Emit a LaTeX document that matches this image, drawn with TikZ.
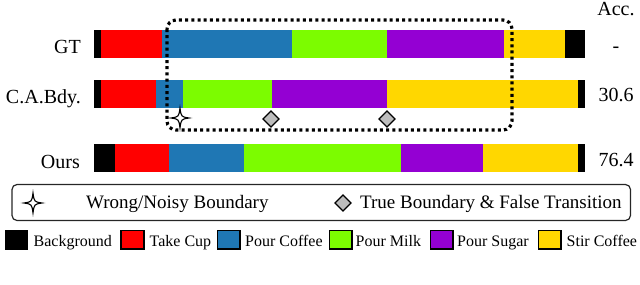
\documentclass[tikz,border=0pt]{standalone}
\usepackage{fontspec}
\setmainfont{Liberation Serif}
\definecolor{cbg}{HTML}{000000}
\definecolor{cred}{HTML}{FF0000}
\definecolor{cblue}{HTML}{1F77B4}
\definecolor{cgreen}{HTML}{7CFC00}
\definecolor{cpurple}{HTML}{9400D3}
\definecolor{cyellow}{HTML}{FFD700}
\definecolor{dgray}{HTML}{BDBDBD}
\begin{document}
\begin{tikzpicture}[x=1pt,y=-1pt,
  rowlabel/.style={anchor=base east,inner sep=0pt,font=\fontsize{20}{22}\selectfont},
  acclabel/.style={anchor=base,inner sep=0pt,font=\fontsize{20}{22}\selectfont},
  legtext/.style={anchor=base west,inner sep=0pt,font=\fontsize{19}{21}\selectfont},
  colortext/.style={anchor=base west,inner sep=0pt,font=\fontsize{16}{18}\selectfont},
  swatch/.style={draw=black,line width=1.2pt},
  diam/.style={draw=black,fill=dgray,line width=1.4pt,line join=miter},
  starshape/.style={draw=black,fill=white,line width=1.1pt}
]
\useasboundingbox (0,0) rectangle (640,284);
% GT bar
\fill[cbg] (94,30) rectangle (101,58);
\fill[cred] (101,30) rectangle (162,58);
\fill[cblue] (162,30) rectangle (292,58);
\fill[cgreen] (292,30) rectangle (387,58);
\fill[cpurple] (387,30) rectangle (504,58);
\fill[cyellow] (504,30) rectangle (565,58);
\fill[cbg] (565,30) rectangle (585,58);
% C.A.Bdy bar
\fill[cbg] (94,80) rectangle (101,108);
\fill[cred] (101,80) rectangle (156,108);
\fill[cblue] (156,80) rectangle (183,108);
\fill[cgreen] (183,80) rectangle (272,108);
\fill[cpurple] (272,80) rectangle (387,108);
\fill[cyellow] (387,80) rectangle (578,108);
\fill[cbg] (578,80) rectangle (585,108);
% Ours bar
\fill[cbg] (94,144) rectangle (115,172);
\fill[cred] (115,144) rectangle (169,172);
\fill[cblue] (169,144) rectangle (244,172);
\fill[cgreen] (244,144) rectangle (401,172);
\fill[cpurple] (401,144) rectangle (483,172);
\fill[cyellow] (483,144) rectangle (578,172);
\fill[cbg] (578,144) rectangle (585,172);
% dotted focus box
\draw[line width=3.2pt,dash pattern=on 3pt off 3.2pt,rounded corners=9pt] (167,20) rectangle (512,130);
% row labels
\node[rowlabel] (gt) at (81,53.3) {GT};
\node[rowlabel] (cab) at (81,103.5) {C.A.Bdy.};
\node[rowlabel] (ours) at (80,168.5) {Ours};
\node[acclabel] (acc) at (616,15) {Acc.};
\node[acclabel] (accgt) at (616,52) {-};
\node[acclabel] (acccab) at (616,101.5) {30.6};
\node[acclabel] (accours) at (616,166) {76.4};
% markers
\draw[starshape] (180,108) .. controls (181.2,116.8) .. (189,118) .. controls (181.2,119.2) .. (180,128) .. controls (178.8,119.2) .. (171,118) .. controls (178.8,116.8) .. cycle;
\draw[diam] (271,111) -- (279,119) -- (271,127) -- (263,119) -- cycle;
\draw[diam] (387,111) -- (395,119) -- (387,127) -- (379,119) -- cycle;
% legend box
\draw[line width=1.2pt,draw=black!85,rounded corners=5pt] (12,184.5) rectangle (630.5,220.5);
\draw[starshape] (33,193) .. controls (34.2,201.8) .. (42,203) .. controls (34.2,204.2) .. (33,213) .. controls (31.8,204.2) .. (24,203) .. controls (31.8,201.8) .. cycle;
\node[legtext] (l1) at (86,208.5) {Wrong/Noisy Boundary};
\draw[diam] (343,195) -- (351,203) -- (343,211) -- (335,203) -- cycle;
\node[legtext] (l2) at (360,208.5) {True Boundary \& False Transition};
% color legend
\fill[cbg] (5,230) rectangle (28,249.5);
\node[colortext] (c1) at (33.5,246) {Background};
\draw[swatch,fill=cred] (121,230.5) rectangle (144,249);
\node[colortext] (c2) at (149.5,246) {Take Cup};
\draw[swatch,fill=cblue] (217.5,230.5) rectangle (240,249);
\node[colortext] (c3) at (245,246) {Pour Coffee};
\draw[swatch,fill=cgreen] (329.5,230.5) rectangle (352,249);
\node[colortext] (c4) at (355.5,246) {Pour Milk};
\draw[swatch,fill=cpurple] (430.5,230.5) rectangle (453,249);
\node[colortext] (c5) at (457,246) {Pour Sugar};
\draw[swatch,fill=cyellow] (538.5,230.5) rectangle (561,249);
\node[colortext] (c6) at (566.5,246) {Stir Coffee};
\end{tikzpicture}
\end{document}
